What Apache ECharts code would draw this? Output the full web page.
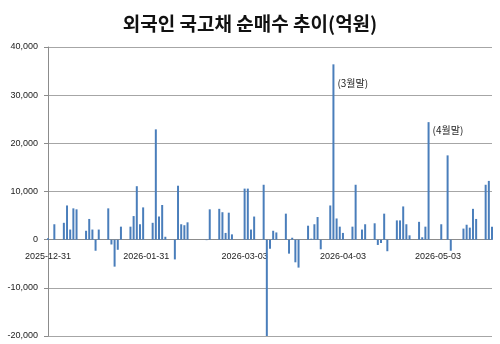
<!DOCTYPE html>
<html>
<head>
<meta charset="utf-8">
<script src="https://cdn.jsdelivr.net/npm/echarts@6/dist/echarts.min.js"></script>
<style>
  html, body { margin: 0; padding: 0; background: #fff; }
  #chart { width: 500px; height: 344px; }
</style>
</head>
<body>
<div id="chart"></div>
<script>
// 거래일별 외국인 국고채 순매수 (억원)
var tradeDates = [
  '2025-12-31', '2026-01-02', '2026-01-05', '2026-01-06', '2026-01-07', '2026-01-08', '2026-01-09',
  '2026-01-12', '2026-01-13', '2026-01-14', '2026-01-15', '2026-01-16',
  '2026-01-19', '2026-01-20', '2026-01-21', '2026-01-22', '2026-01-23',
  '2026-01-26', '2026-01-27', '2026-01-28', '2026-01-29', '2026-01-30',
  '2026-02-02', '2026-02-03', '2026-02-04', '2026-02-05', '2026-02-06',
  '2026-02-09', '2026-02-10', '2026-02-11', '2026-02-12', '2026-02-13',
  '2026-02-19', '2026-02-20',
  '2026-02-23', '2026-02-24', '2026-02-25', '2026-02-26', '2026-02-27',
  '2026-03-03', '2026-03-04', '2026-03-05', '2026-03-06',
  '2026-03-09', '2026-03-10', '2026-03-11', '2026-03-12', '2026-03-13',
  '2026-03-16', '2026-03-17', '2026-03-18', '2026-03-19', '2026-03-20',
  '2026-03-23', '2026-03-24', '2026-03-25', '2026-03-26', '2026-03-27',
  '2026-03-30', '2026-03-31', '2026-04-01', '2026-04-02', '2026-04-03',
  '2026-04-06', '2026-04-07', '2026-04-09', '2026-04-10',
  '2026-04-13', '2026-04-14', '2026-04-15', '2026-04-16', '2026-04-17',
  '2026-04-20', '2026-04-21', '2026-04-22', '2026-04-23', '2026-04-24',
  '2026-04-27', '2026-04-28', '2026-04-29', '2026-04-30',
  '2026-05-04', '2026-05-06', '2026-05-07',
  '2026-05-11', '2026-05-12', '2026-05-13', '2026-05-14', '2026-05-15',
  '2026-05-18', '2026-05-19', '2026-05-20'
];
var netBuy = [
  300, 3200, 3500, 7100, 2100, 6500, 6300,
  1850, 4300, 2100, -2300, 2100,
  6500, -1000, -5600, -2100, 2700,
  2700, 4900, 11100, 3200, 6700,
  3500, 22900, 4800, 7200, 600,
  -4100, 11200, 3200, 3000, 3600,
  -100, 6300,
  6400, 5700, 1400, 5600, 1100,
  10600, 10600, 2100, 4800,
  11400, -21000, -1900, 1850, 1500,
  5400, -2900, 400, -4700, -5800,
  2900, 200, 3200, 4700, -2000,
  7100, 36400, 4400, 2700, 1400,
  2700, 11400, 2100, 3200,
  3400, -1100, -700, 5400, -2400,
  4000, 4000, 6900, 3200, 900,
  3700, 500, 2700, 24400,
  3200, 17500, -2300,
  2300, 3100, 2500, 6400, 4300,
  11400, 12200, 2700
];
var tickLabels = ['2025-12-31', '2026-01-31', '2026-03-03', '2026-04-03', '2026-05-03'];
var noteDates = ['2026-03-31', '2026-04-30'];
var noteTexts = ['(3월말)', '(4월말)'];
var notePos = [[5, 19], [5, 8]];

var firstDay = '2025-12-31';
var lastDay = '2026-05-20';
var yMin = -20000, yMax = 40000;

// 달력 날짜 축
function fmt(d) {
  var m = d.getUTCMonth() + 1, dd = d.getUTCDate();
  return d.getUTCFullYear() + '-' + (m < 10 ? '0' + m : m) + '-' + (dd < 10 ? '0' + dd : dd);
}
var days = [];
for (var t = Date.parse(firstDay + 'T00:00:00Z'); t <= Date.parse(lastDay + 'T00:00:00Z'); t += 86400000) {
  days.push(fmt(new Date(t)));
}

var seriesData = days.map(function (d) {
  var i = tradeDates.indexOf(d);
  if (i < 0) return '-';
  var n = noteDates.indexOf(d);
  if (n < 0) return netBuy[i];
  return {
    value: netBuy[i],
    label: {
      show: true,
      position: notePos[n],
      align: 'left',
      verticalAlign: 'middle',
      formatter: noteTexts[n],
      fontSize: 10,
      color: '#222',
      fontFamily: 'Noto Sans CJK KR'
    }
  };
});

var gridTop = 47, gridBottom = 8, H = 344;
// x축을 0 위치로 끌어올림
var plotH = H - gridTop - gridBottom;
var zeroShift = plotH * (0 - yMin) / (yMax - yMin);

var chart = echarts.init(document.getElementById('chart'), null, { renderer: 'canvas' });

var option = {
  animation: false,
  backgroundColor: '#fff',
  title: {
    text: '외국인 국고채 순매수 추이(억원)',
    left: 'center',
    top: 9,
    textStyle: {
      fontFamily: 'Noto Sans CJK KR',
      fontWeight: 'bold',
      fontSize: 19,
      color: '#111'
    }
  },
  grid: { left: 48, right: 8, top: gridTop, bottom: gridBottom, containLabel: false, outerBoundsMode: 'none' },
  xAxis: {
    type: 'category',
    data: days,
    boundaryGap: false,
    offset: -zeroShift,
    axisLine: { onZero: false, lineStyle: { color: '#8c8c8c', width: 1 } },
    axisTick: { show: false },
    axisLabel: {
      interval: function (index, value) { return tickLabels.indexOf(value) >= 0; },
      margin: 12,
      fontSize: 9,
      color: '#222',
      fontFamily: 'Liberation Sans',
      hideOverlap: false
    },
    splitLine: { show: false }
  },
  yAxis: {
    type: 'value',
    min: yMin,
    max: yMax,
    interval: 10000,
    axisLine: { show: true, lineStyle: { color: '#8c8c8c', width: 1 } },
    axisTick: { show: true, inside: false, length: 4, lineStyle: { color: '#8c8c8c' } },
    axisLabel: {
      margin: 10,
      fontSize: 9,
      color: '#222',
      fontFamily: 'Liberation Sans',
      formatter: function (v) { return v.toLocaleString('en-US'); }
    },
    splitLine: { show: true, lineStyle: { color: '#a6a6a6', width: 1 } }
  },
  series: [
    {
      name: '순매수',
      type: 'bar',
      data: seriesData,
      barWidth: 2,
      clip: true,
      itemStyle: { color: '#4a7ebb' }
    }
  ]
};

chart.setOption(option);
</script>
</body>
</html>
